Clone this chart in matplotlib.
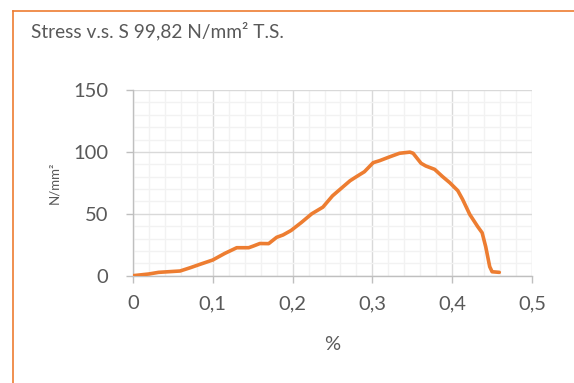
import numpy as np
import matplotlib
matplotlib.use("Agg")
import matplotlib.pyplot as plt
from matplotlib.lines import Line2D
from matplotlib.ticker import MultipleLocator, FuncFormatter

plt.rcParams['font.family'] = ['Lato', 'DejaVu Sans']

# strain [%] and stress [N/mm2]
strain = [0.0, 0.02, 0.032, 0.059, 0.072, 0.084, 0.1, 0.115, 0.13, 0.145,
          0.151, 0.159, 0.17, 0.18, 0.188, 0.198, 0.211, 0.224, 0.238, 0.25,
          0.259, 0.272, 0.28, 0.29, 0.301, 0.309, 0.322, 0.334, 0.347, 0.351,
          0.361, 0.367, 0.378, 0.388, 0.397, 0.407, 0.413, 0.422, 0.432,
          0.4375, 0.442, 0.447, 0.45, 0.459]
stress = [0.0, 1.4, 2.7, 3.8, 6.5, 9.2, 12.7, 18.0, 22.6, 22.6,
          24.0, 26.0, 25.9, 31.0, 32.9, 36.5, 43.0, 50.0, 55.4, 64.5,
          69.5, 76.7, 80.0, 84.0, 91.3, 92.9, 96.1, 98.9, 99.82, 98.9,
          90.8, 88.6, 85.9, 80.0, 75.1, 68.7, 61.7, 49.5, 39.6,
          34.7, 23.4, 7.3, 3.2, 2.7]

title = "Stress v.s. S 99,82 N/mm\u00b2 T.S."
x_label = "%"
y_label = "N/mm\u00b2"

text_col = "#595959"
axis_col = "#bfbfbf"

fig = plt.figure(figsize=(5.74, 3.83), dpi=100)
W, H = 574, 383

# orange chart frame: only the top and left edges are inside the picture
fx, fy = 13 / W, 1 - 10.5 / H
fig.add_artist(Line2D([fx, 1.0], [fy, fy], transform=fig.transFigure,
                      color="#ED7D31", linewidth=1.2))
fig.add_artist(Line2D([fx, fx], [0.0, fy], transform=fig.transFigure,
                      color="#ED7D31", linewidth=1.2))

ax = fig.add_axes([133 / W, 1 - 275.7 / H, (532 - 133) / W, (275.7 - 90) / H])
ax.plot(strain, stress, color="#ED7D31", linewidth=2.6, solid_capstyle="round",
        solid_joinstyle="round", zorder=3)

ax.set_xlim(0, 0.5)
ax.set_ylim(0, 150)
ax.xaxis.set_major_locator(MultipleLocator(0.1))
ax.xaxis.set_minor_locator(MultipleLocator(0.02))
ax.yaxis.set_major_locator(MultipleLocator(50))
ax.yaxis.set_minor_locator(MultipleLocator(10))
ax.xaxis.set_major_formatter(FuncFormatter(lambda v, p: f"{v:g}".replace(".", ",")))
ax.yaxis.set_major_formatter(FuncFormatter(lambda v, p: f"{v:g}"))

ax.grid(which="major", color="#d9d9d9", linewidth=1.0, zorder=1)
ax.grid(which="minor", color="#f2f2f2", linewidth=1.0, zorder=0)
ax.set_axisbelow(True)

for s in ["top", "right"]:
    ax.spines[s].set_visible(False)
for s in ["left", "bottom"]:
    ax.spines[s].set_color(axis_col)
    ax.spines[s].set_linewidth(1.0)
    ax.spines[s].set_zorder(2)

ax.tick_params(which="major", length=5, width=1.0, color=axis_col,
               labelcolor=text_col, labelsize=14.5)
ax.tick_params(axis="x", pad=9)
ax.tick_params(axis="y", pad=13)
ax.tick_params(which="minor", length=0)

ax.set_xlabel(x_label, color=text_col, fontsize=14.5, labelpad=17)
ax.set_ylabel(y_label, color=text_col, fontsize=9.5, labelpad=9)

fig.text(31 / W, 1 - 37 / H, title, color=text_col, fontsize=13.8,
         ha="left", va="baseline")

fig.savefig("out.png", dpi=100)
